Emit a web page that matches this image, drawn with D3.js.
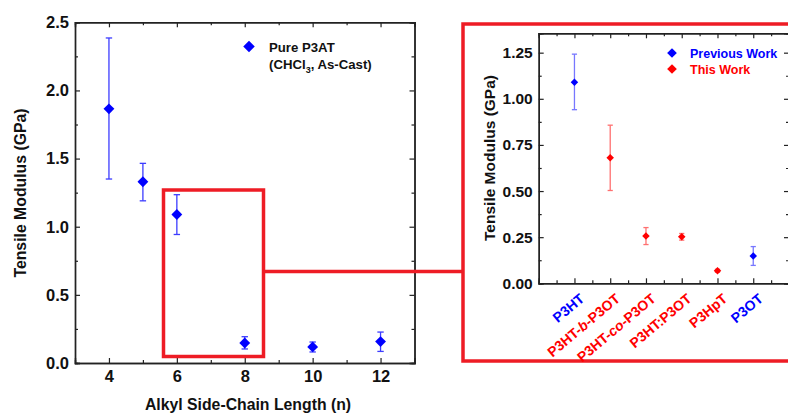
<!DOCTYPE html>
<html>
<head>
<meta charset="utf-8">
<script src="https://cdn.jsdelivr.net/npm/d3@7"></script>
<style>
  html, body { margin: 0; padding: 0; background: #fff; }
  svg { display: block; font-family: "Liberation Sans", Arial, sans-serif; font-weight: bold; }
</style>
</head>
<body>
<svg id="chart" width="788" height="416"></svg>
<script>
// Pure P3AT: modulus vs alkyl side-chain length
const chainLength = [4, 5, 6, 8, 10, 12];
const modulusMean = [1.865, 1.33, 1.09, 0.147, 0.118, 0.157];
const modulusLow  = [1.35, 1.19, 0.943, 0.103, 0.081, 0.085];
const modulusHigh = [2.385, 1.465, 1.235, 0.193, 0.154, 0.227];

// Inset: individual materials
const materials = ["P3HT", "P3HT-b-P3OT", "P3HT-co-P3OT", "P3HT:P3OT", "P3HpT", "P3OT"];
const materialSource = ["prev", "this", "this", "this", "this", "prev"];
const materialMean = [1.09, 0.681, 0.257, 0.252, 0.068, 0.148];
const materialLow  = [0.941, 0.503, 0.21, 0.234, 0.06, 0.097];
const materialHigh = [1.242, 0.857, 0.302, 0.27, 0.076, 0.199];

const leftYTicks = [0, 0.5, 1.0, 1.5, 2.0, 2.5];
const leftXTicks = [4, 6, 8, 10, 12];
const rightYTicks = [0, 0.25, 0.5, 0.75, 1.0, 1.25];

const BLUE = "#0000ff", RED = "#ff0000";
const BOX_RED = "#ee1c25";
const AXIS = "#222";

const svg = d3.select("#chart");
const diamond = d3.symbol().type(d3.symbolDiamond2);

function styleAxis(g) {
  g.select(".domain").attr("stroke", AXIS).attr("stroke-width", 1.4);
  g.selectAll(".tick line").attr("stroke", AXIS).attr("stroke-width", 1.2);
  g.selectAll(".tick text").attr("fill", "#111").style("font-weight", "bold");
}

function frame(x, y, opts) {
  const [x0, x1] = x.range();
  const [y0, y1] = y.range();
  const mk = (axis, tr, ticks, size, fmt, fs, pad) => {
    const a = axis.tickValues(ticks).tickSize(size).tickPadding(pad || 4);
    a.tickFormat(fmt === null ? "" : fmt);
    const g = svg.append("g").attr("transform", tr).call(a);
    g.style("font-size", fs + "px").style("font-family", "'Liberation Sans', Arial, sans-serif");
    styleAxis(g);
    return g;
  };
  // bottom / left carry labels, top / right are mirrored frames
  mk(d3.axisBottom(x), `translate(0,${y0})`, opts.xMajor, -5, opts.xFmt, opts.fs, 7);
  mk(d3.axisBottom(x), `translate(0,${y0})`, opts.xMinor, -3, null, opts.fs);
  mk(d3.axisTop(x), `translate(0,${y1})`, opts.xMajor, -5, null, opts.fs);
  mk(d3.axisTop(x), `translate(0,${y1})`, opts.xMinor, -3, null, opts.fs);
  mk(d3.axisLeft(y), `translate(${x0},0)`, opts.yMajor, -5, opts.yFmt, opts.fs, 6);
  mk(d3.axisLeft(y), `translate(${x0},0)`, opts.yMinor, -3, null, opts.fs);
  mk(d3.axisRight(y), `translate(${x1},0)`, opts.yMajor, -5, null, opts.fs);
  mk(d3.axisRight(y), `translate(${x1},0)`, opts.yMinor, -3, null, opts.fs);
}

function errorBars(g, xs, mean, lo, hi, x, y, colorFn, cap, size) {
  const n = xs.length;
  for (let i = 0; i < n; i++) {
    const cx = x(xs[i]);
    const c = colorFn(i);
    g.append("line").attr("x1", cx).attr("x2", cx).attr("y1", y(lo[i])).attr("y2", y(hi[i]))
      .attr("stroke", c.bar).attr("stroke-width", 1.3);
    [lo[i], hi[i]].forEach(v => {
      g.append("line").attr("x1", cx - cap).attr("x2", cx + cap).attr("y1", y(v)).attr("y2", y(v))
        .attr("stroke", c.bar).attr("stroke-width", 1.3);
    });
    g.append("path").attr("d", diamond.size(size)()).attr("transform", `translate(${cx},${y(mean[i])})`)
      .attr("fill", c.mark);
  }
}

// ---------- main panel ----------
const xL = d3.scaleLinear().domain([3, 13]).range([75, 414.5]);
const yL = d3.scaleLinear().domain([0, 2.5]).range([363, 22.3]);

frame(xL, yL, {
  xMajor: leftXTicks, xMinor: [5, 7, 9, 11], xFmt: d3.format("d"),
  yMajor: leftYTicks, yMinor: [0.25, 0.75, 1.25, 1.75, 2.25], yFmt: d3.format(".1f"),
  fs: 16.5
});

const gL = svg.append("g");
errorBars(gL, chainLength, modulusMean, modulusLow, modulusHigh, xL, yL,
  () => ({ bar: "#3c3cff", mark: BLUE }), 3.2, 75);

svg.append("text").attr("x", 248).attr("y", 410).attr("text-anchor", "middle")
  .style("font-size", "15.8px").attr("fill", "#111").text("Alkyl Side-Chain Length (n)");
svg.append("text").attr("transform", "translate(26,193) rotate(-90)").attr("text-anchor", "middle")
  .style("font-size", "15.8px").attr("fill", "#111").text("Tensile Modulus (GPa)");

// legend
svg.append("path").attr("d", diamond.size(85)()).attr("transform", "translate(249,46.5)").attr("fill", BLUE);
svg.append("text").attr("x", 269).attr("y", 51.5).style("font-size", "13.2px").attr("fill", "#111").text("Pure P3AT");
const leg2 = svg.append("text").attr("x", 269).attr("y", 69).style("font-size", "13.2px").attr("fill", "#111");
leg2.append("tspan").text("(CHCl");
leg2.append("tspan").attr("dy", 4).style("font-size", "9px").text("3");
leg2.append("tspan").attr("dy", -4).text(", As-Cast)");

// highlight box and connector
svg.append("rect").attr("x", 163.5).attr("y", 190).attr("width", 100).attr("height", 166.5)
  .attr("fill", "none").attr("stroke", BOX_RED).attr("stroke-width", 3.5);
svg.append("line").attr("x1", 263.5).attr("x2", 463).attr("y1", 271.5).attr("y2", 271.5)
  .attr("stroke", BOX_RED).attr("stroke-width", 3.5);
svg.append("rect").attr("x", 463).attr("y", 24).attr("width", 400).attr("height", 337)
  .attr("fill", "none").attr("stroke", BOX_RED).attr("stroke-width", 3.5);

// ---------- inset panel ----------
const xR = d3.scaleLinear().domain([0, 7]).range([538.7, 789]);
const yR = d3.scaleLinear().domain([0, 1.355]).range([283.3, 33.3]);

frame(xR, yR, {
  xMajor: [1, 2, 3, 4, 5, 6], xMinor: [0.5, 1.5, 2.5, 3.5, 4.5, 5.5, 6.5], xFmt: null,
  yMajor: rightYTicks, yMinor: [0.125, 0.375, 0.625, 0.875, 1.125], yFmt: d3.format(".2f"),
  fs: 15.5
});

const gR = svg.append("g");
errorBars(gR, materials.map((_, i) => i + 1), materialMean, materialLow, materialHigh, xR, yR,
  i => materialSource[i] === "prev"
    ? { bar: "#7777ff", mark: BLUE }
    : { bar: "#ff7070", mark: RED }, 2.6, 36);

// rotated category labels
const catColor = i => materialSource[i] === "prev" ? BLUE : RED;
materials.forEach((m, i) => {
  const t = svg.append("text")
    .attr("transform", `translate(${xR(i + 1) + 4},${yR(0) + 9}) rotate(-40)`)
    .attr("text-anchor", "end").attr("dy", "0.75em")
    .style("font-size", "14px").attr("fill", catColor(i));
  const parts = m.match(/^(P3HT-)(b|co)(-P3OT)$/);
  if (parts) {
    t.append("tspan").text(parts[1]);
    t.append("tspan").style("font-style", "italic").text(parts[2]);
    t.append("tspan").text(parts[3]);
  } else {
    t.text(m);
  }
});

svg.append("text").attr("transform", "translate(495,158) rotate(-90)").attr("text-anchor", "middle")
  .style("font-size", "15.5px").attr("fill", "#111").text("Tensile Modulus (GPa)");

// inset legend
[["Previous Work", BLUE, 53], ["This Work", RED, 69]].forEach(([label, c, yy]) => {
  svg.append("path").attr("d", diamond.size(60)()).attr("transform", `translate(672,${yy})`).attr("fill", c);
  svg.append("text").attr("x", 690).attr("y", yy + 4.5).style("font-size", "12.5px").attr("fill", c).text(label);
});
</script>
</body>
</html>
